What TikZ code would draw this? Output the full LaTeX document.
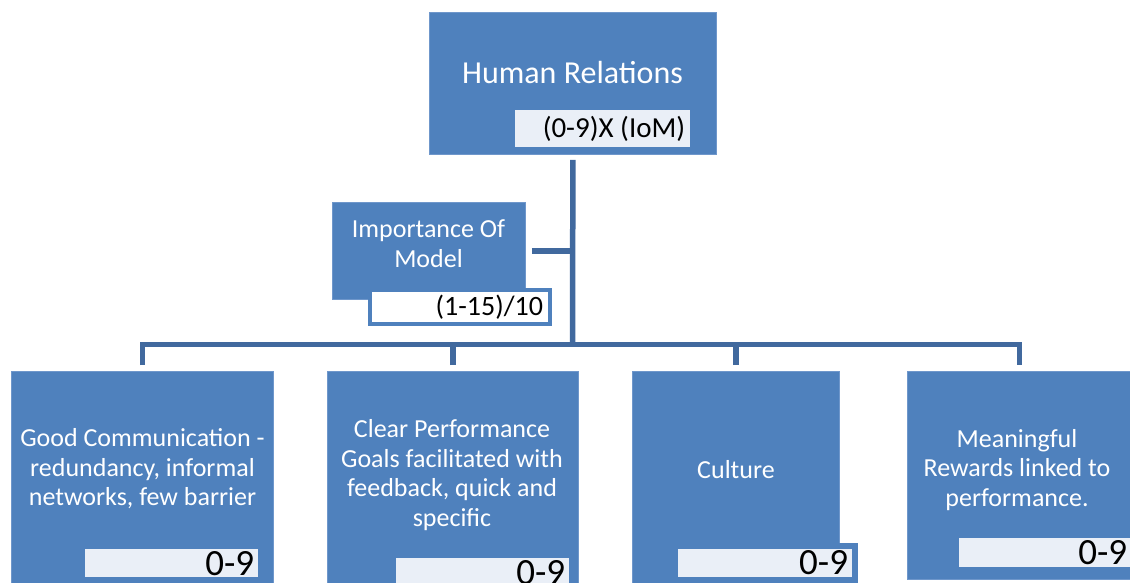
\documentclass[tikz,border=0pt]{standalone}
\usepackage{fontspec}
\setmainfont{Carlito}
\definecolor{boxblue}{HTML}{4F81BD}
\definecolor{boxedge}{HTML}{6F97CB}
\definecolor{linkblue}{HTML}{41699E}
\definecolor{tagfill}{HTML}{EAEFF7}
\begin{document}
\begin{tikzpicture}[x=1pt,y=-1pt,
  card/.style={fill=boxblue, draw=boxedge, line width=0.8pt, inner sep=0pt, anchor=north west},
  title/.style={text=white, align=center, inner sep=0pt},
  body/.style={title, font=\fontsize{26}{29.5}\selectfont},
  tag/.style={fill=tagfill, draw=none, inner sep=0pt, anchor=north west, align=flush right, text=black},
  framedtag/.style={fill=white, draw=boxblue, inner sep=0pt, align=flush right, text=black},
  score/.style={font=\fontsize{37}{40}\selectfont},
  link/.style={draw=linkblue, line width=5.5pt}]
\useasboundingbox (0,0) rectangle (1130,583);

% root box
\node[card, minimum width=287, minimum height=142] (top) at (429,12) {};
\node[title, anchor=base, font=\fontsize{32}{38}\selectfont] (toptxt) at (572.5,84) {Human Relations};
\node[tag, minimum width=175, minimum height=37, text width=165, font=\fontsize{29}{34}\selectfont] (toptag) at (515,110)
  {(0-9)X (IoM)};

% weighting box
\node[card, minimum width=193, minimum height=97] (imp) at (332,202) {};
\node[title, font=\fontsize{26}{30}\selectfont] (imptxt) at (428.5,244) {Importance Of\\Model};
\node[framedtag, line width=4pt, minimum width=180, minimum height=34, text width=166, font=\fontsize{28}{33}\selectfont] (imptag) at (460,307)
  {(1-15)/10};

% factor boxes
\node[card, minimum width=262, minimum height=212] (c1) at (11,371) {};
\node[card, minimum width=251, minimum height=212] (c2) at (327,371) {};
\node[card, minimum width=207, minimum height=212] (c3) at (632,371) {};
\node[card, minimum width=224, minimum height=208] (c4) at (907,371) {};

\node[body] (t1) at (142.5,469)
  {Good Communication -\\redundancy, informal\\networks, few barrier};
\node[body] (t2) at (452,475)
  {Clear Performance\\Goals facilitated with\\feedback, quick and\\specific};
\node[body, anchor=base] (t3) at (736,478) {Culture};
\node[body] (t4) at (1017,470)
  {Meaningful\\Rewards linked to\\performance.};

% score tags
\node[tag, score, minimum width=173, minimum height=28, text width=165] (g1) at (85,549) {0-9};
\node[tag, score, minimum width=173, minimum height=28, text width=165] (g2) at (396,558) {0-9};
\node[framedtag, score, fill=tagfill, line width=6pt, minimum width=180, minimum height=34, text width=166] (g3) at (765,563) {0-9};
\node[tag, score, minimum width=171, minimum height=29, text width=165] (g4) at (959,538) {0-9};

% connectors
\coordinate (hub) at (572.5,344.5);
\draw[link, shorten <=5pt] (top.south) -- (hub);
\draw[link, shorten <=6pt] (imp.east) -- (imp.east -| hub);
\draw[link, miter limit=10, shorten <=6pt, shorten >=6pt]
  (c1.north) -- (c1.north |- hub) -- (c4.north |- hub) -- (c4.north);
\draw[link, shorten <=6pt] (c2.north) -- (c2.north |- hub);
\draw[link, shorten <=6pt] (c3.north) -- (c3.north |- hub);
\end{tikzpicture}
\end{document}
